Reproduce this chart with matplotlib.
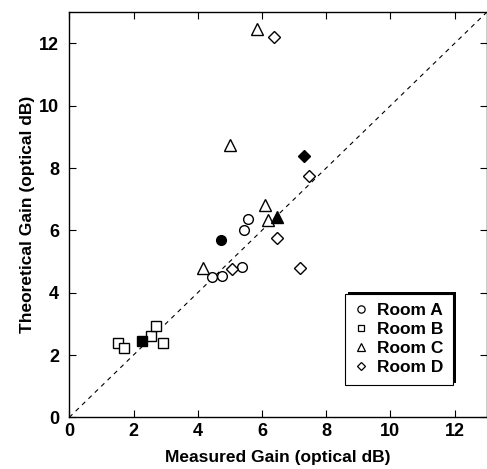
import matplotlib
matplotlib.use("Agg")
import matplotlib.pyplot as plt
from matplotlib.patches import Rectangle
from matplotlib.transforms import IdentityTransform

plt.rcParams['font.family'] = ['Liberation Sans', 'DejaVu Sans']

# measured / theoretical gain (optical dB), open markers
room_a_x = [4.46, 4.76, 5.37, 5.45, 5.56]
room_a_y = [4.50, 4.52, 4.82, 6.00, 6.36]
room_b_x = [1.51, 1.70, 2.53, 2.70, 2.93]
room_b_y = [2.39, 2.23, 2.62, 2.92, 2.37]
room_c_x = [5.86, 5.02, 6.10, 6.18, 4.16]
room_c_y = [12.45, 8.75, 6.82, 6.33, 4.80]
room_d_x = [6.38, 7.46, 6.46, 7.20, 5.06]
room_d_y = [12.22, 7.75, 5.76, 4.79, 4.75]

# filled markers
room_a_fill = ([4.74], [5.70])
room_b_fill = ([2.25], [2.45])
room_c_fill = ([6.46], [6.42])
room_d_fill = ([7.31], [8.40])

labels = ['Room A', 'Room B', 'Room C', 'Room D']
ticks = [0, 2, 4, 6, 8, 10, 12]

fig = plt.figure(figsize=(4.87, 4.69), dpi=100)
ax = fig.add_axes([0.1423, 0.1102, 0.857, 0.8636])

ax.plot([0, 13], [0, 13], ls=(0, (4, 4)), color='k', lw=0.8, zorder=1)

styles = [('o', 7), ('s', 6.5), ('^', 8), ('D', 6)]
series = [(room_a_x, room_a_y, room_a_fill), (room_b_x, room_b_y, room_b_fill),
          (room_c_x, room_c_y, room_c_fill), (room_d_x, room_d_y, room_d_fill)]
for (xs, ys, filled), (m, ms) in zip(series, styles):
    ax.plot(xs, ys, ls='none', marker=m, ms=ms, mfc='white', mec='k',
            mew=1.0, zorder=3)
    ax.plot(filled[0], filled[1], ls='none', marker=m, ms=ms, mfc='k',
            mec='k', mew=1.0, zorder=3)

# legend uses smaller markers
handles = [plt.Line2D([], [], ls='none', marker=m, ms=ms * 0.75, mfc='white',
                      mec='k', mew=0.9) for m, ms in styles]
leg = ax.legend(handles, labels, loc='lower right',
                bbox_to_anchor=(0.919, 0.08), fancybox=False, shadow=False,
                frameon=True, edgecolor='k', framealpha=1,
                prop={'weight': 'bold', 'size': 12.5}, handlelength=0.8,
                handletextpad=0.5, borderpad=0.55, labelspacing=0.22,
                borderaxespad=0)
leg.get_frame().set_linewidth(0.8)

ax.set_xlim(0, 13)
ax.set_ylim(0, 13)
ax.set_xticks(ticks)
ax.set_yticks(ticks)
ax.tick_params(direction='in', length=5, width=0.8, top=True, right=True,
               labelsize=13)
ax.tick_params(axis='x', pad=4)
ax.tick_params(axis='y', pad=7.5)
for t in ax.get_xticklabels() + ax.get_yticklabels():
    t.set_fontweight('bold')
for s in ax.spines.values():
    s.set_linewidth(1.0)

ax.set_xlabel('Measured Gain (optical dB)', fontsize=12.5, fontweight='bold',
              labelpad=7)
ax.set_ylabel('Theoretical Gain (optical dB)', fontsize=12.5,
              fontweight='bold', labelpad=3)

# offset shadow on the top and right of the legend box
fig.canvas.draw()
bb = leg.get_window_extent()
shadow = Rectangle((bb.x0 + 3, bb.y0 + 2), bb.width, bb.height,
                   transform=IdentityTransform(), facecolor='k',
                   edgecolor='none', zorder=4.9, clip_on=False)
ax.add_patch(shadow)

fig.savefig('out.png', dpi=100)
